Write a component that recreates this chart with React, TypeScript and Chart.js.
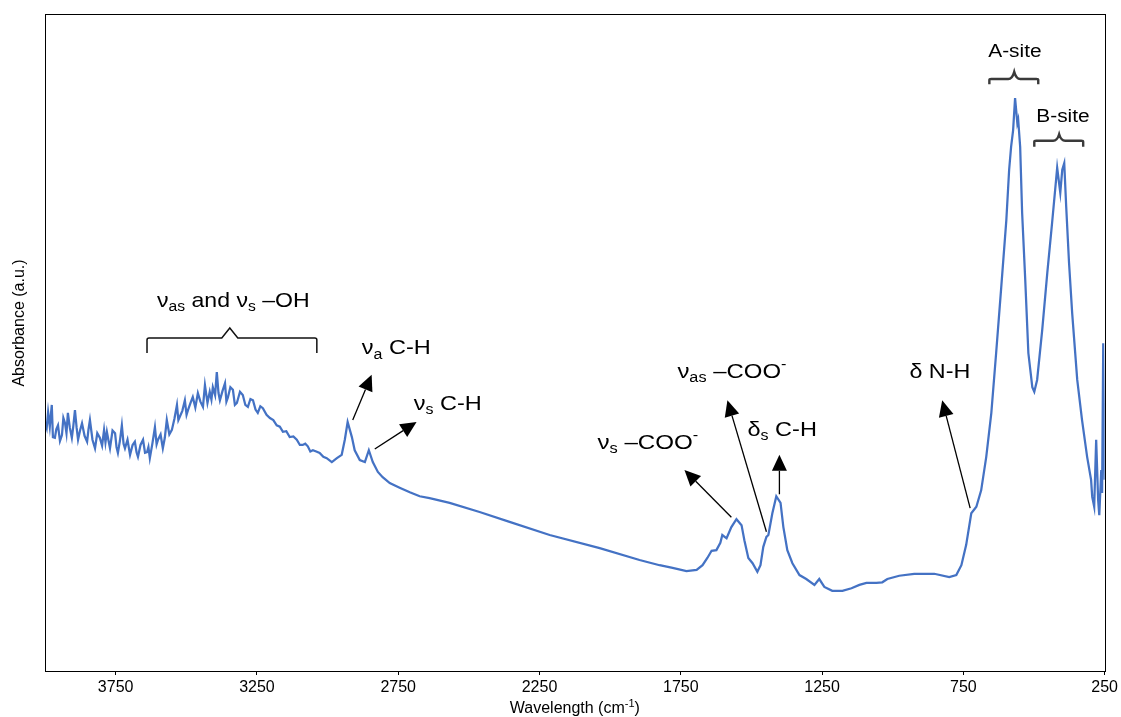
import React, { useEffect, useRef } from 'react';
import { Chart, registerables } from 'chart.js';

Chart.register(...registerables);

// ---- Data (wavenumber in cm-1, absorbance in a.u.) ----
const wavenumbers: number[] = [
  4000, 3994, 3989, 3983, 3976, 3972, 3965, 3960, 3954, 3947, 3940, 3935, 3929, 3924, 3919, 3912, 3905, 3900, 3894, 3888,
  3883, 3876, 3869, 3860, 3851, 3846, 3841, 3832, 3823, 3815, 3806, 3798, 3791, 3786, 3781, 3775, 3770, 3761, 3752, 3747,
  3742, 3735, 3728, 3722, 3717, 3708, 3699, 3690, 3682, 3676, 3671, 3662, 3653, 3646, 3639, 3634, 3629, 3620, 3611, 3605,
  3600, 3591, 3583, 3576, 3569, 3560, 3551, 3542, 3533, 3528, 3523, 3514, 3505, 3499, 3494, 3485, 3477, 3468, 3459, 3450,
  3441, 3434, 3425, 3417, 3411, 3406, 3398, 3392, 3386, 3381, 3372, 3363, 3358, 3353, 3344, 3335, 3328, 3321, 3310, 3300,
  3291, 3282, 3273, 3264, 3255, 3247, 3238, 3229, 3216, 3204, 3192, 3180, 3169, 3158, 3146, 3134, 3121, 3109, 3098, 3088,
  3079, 3070, 3061, 3052, 3040, 3028, 3015, 3003, 2985, 2967, 2950, 2939, 2929, 2914, 2904, 2886, 2868, 2854, 2840, 2822,
  2805, 2780, 2745, 2709, 2674, 2639, 2568, 2462, 2356, 2214, 2037, 1896, 1825, 1779, 1730, 1694, 1673, 1656, 1641, 1624,
  1610, 1603, 1588, 1571, 1553, 1535, 1525, 1511, 1496, 1479, 1468, 1458, 1447, 1440, 1426, 1412, 1397, 1387, 1373, 1355,
  1330, 1306, 1277, 1260, 1242, 1214, 1178, 1146, 1118, 1093, 1058, 1037, 1019, 977, 924, 853, 800, 775, 757, 740,
  722, 704, 687, 669, 651, 634, 616, 598, 588, 581, 574, 567, 559, 556, 549, 542, 531, 520, 506, 499,
  489, 471, 453, 436, 422, 418, 407, 400, 393, 386, 376, 365, 347, 330, 312, 298, 294, 287, 280, 273,
  269, 262, 259, 255, 250,
];

const absorbance: number[] = [
  0.379, 0.370, 0.394, 0.372, 0.405, 0.356, 0.355, 0.368, 0.374, 0.350, 0.359, 0.385, 0.377, 0.362, 0.393, 0.370, 0.355, 0.372, 0.397, 0.370,
  0.352, 0.366, 0.377, 0.358, 0.349, 0.368, 0.382, 0.352, 0.339, 0.362, 0.355, 0.343, 0.367, 0.348, 0.364, 0.350, 0.339, 0.366, 0.362, 0.341,
  0.332, 0.350, 0.374, 0.346, 0.339, 0.352, 0.329, 0.344, 0.349, 0.333, 0.326, 0.344, 0.352, 0.332, 0.333, 0.341, 0.324, 0.346, 0.371, 0.345,
  0.352, 0.360, 0.339, 0.355, 0.382, 0.360, 0.367, 0.384, 0.405, 0.382, 0.387, 0.396, 0.412, 0.390, 0.397, 0.408, 0.417, 0.401, 0.423, 0.410,
  0.402, 0.435, 0.408, 0.425, 0.413, 0.432, 0.420, 0.455, 0.423, 0.412, 0.426, 0.438, 0.410, 0.416, 0.432, 0.428, 0.405, 0.408, 0.425, 0.420,
  0.405, 0.402, 0.414, 0.412, 0.398, 0.393, 0.403, 0.400, 0.390, 0.385, 0.382, 0.374, 0.372, 0.364, 0.365, 0.356, 0.357, 0.352, 0.344, 0.344,
  0.346, 0.342, 0.334, 0.336, 0.334, 0.332, 0.326, 0.324, 0.318, 0.324, 0.329, 0.352, 0.379, 0.356, 0.336, 0.321, 0.318, 0.336, 0.318, 0.303,
  0.295, 0.286, 0.279, 0.272, 0.266, 0.263, 0.256, 0.242, 0.227, 0.207, 0.187, 0.169, 0.161, 0.157, 0.152, 0.154, 0.161, 0.172, 0.183, 0.184,
  0.195, 0.207, 0.202, 0.219, 0.231, 0.222, 0.199, 0.172, 0.164, 0.151, 0.161, 0.189, 0.204, 0.207, 0.240, 0.266, 0.256, 0.219, 0.184, 0.164,
  0.146, 0.140, 0.131, 0.140, 0.128, 0.122, 0.122, 0.126, 0.131, 0.134, 0.134, 0.135, 0.140, 0.145, 0.148, 0.148, 0.143, 0.146, 0.161, 0.192,
  0.240, 0.250, 0.275, 0.326, 0.393, 0.484, 0.584, 0.686, 0.763, 0.798, 0.823, 0.872, 0.834, 0.839, 0.798, 0.697, 0.595, 0.484, 0.432, 0.425,
  0.443, 0.519, 0.606, 0.682, 0.747, 0.766, 0.728, 0.763, 0.773, 0.706, 0.621, 0.545, 0.443, 0.382, 0.326, 0.291, 0.265, 0.250, 0.352, 0.260,
  0.237, 0.306, 0.271, 0.499, 0.291,
];

const xTickValues: number[] = [3750, 3250, 2750, 2250, 1750, 1250, 750, 250];
const X_MIN = 250;
const X_MAX = 4000;
const Y_MIN = 0;
const Y_MAX = 1;

const xTitle = 'Wavelength (cm';
const xTitleSup = '-1';
const yTitle = 'Absorbance (a.u.)';

type Seg = { t: string; sub?: boolean; sup?: boolean };

// Annotation text, anchored in data units (left edge, baseline)
const annotationTexts: { x: number; y: number; segs: Seg[]; size: number; stretch: number }[] = [
  { x: 3604, y: 0.554, size: 21, stretch: 1.1, segs: [{ t: 'ν' }, { t: 'as', sub: true }, { t: ' and ' }, { t: 'ν' }, { t: 's', sub: true }, { t: ' –OH' }] },
  { x: 2879, y: 0.482, size: 21, stretch: 1.12, segs: [{ t: 'ν' }, { t: 'a', sub: true }, { t: ' C-H' }] },
  { x: 2695, y: 0.397, size: 21, stretch: 1.12, segs: [{ t: 'ν' }, { t: 's', sub: true }, { t: ' C-H' }] },
  { x: 1762, y: 0.446, size: 21, stretch: 1.14, segs: [{ t: 'ν' }, { t: 'as', sub: true }, { t: ' –COO' }, { t: '-', sup: true }] },
  { x: 1514, y: 0.358, size: 21, stretch: 1.12, segs: [{ t: 'δ' }, { t: 's', sub: true }, { t: ' C-H' }] },
  { x: 2045, y: 0.338, size: 21, stretch: 1.15, segs: [{ t: 'ν' }, { t: 's', sub: true }, { t: ' –COO' }, { t: '-', sup: true }] },
  { x: 941, y: 0.446, size: 21, stretch: 1.11, segs: [{ t: 'δ N-H' }] },
  { x: 662, y: 0.935, size: 18, stretch: 1.16, segs: [{ t: 'A-site' }] },
  { x: 492, y: 0.836, size: 18, stretch: 1.16, segs: [{ t: 'B-site' }] },
];

// Arrows: from (wavenumber, absorbance) to tip
const arrowFromX: number[] = [2911, 2833, 1447, 1401, 1571, 726];
const arrowFromY: number[] = [0.382, 0.338, 0.212, 0.269, 0.234, 0.248];
const arrowToX: number[] = [2844, 2685, 1585, 1401, 1737, 825];
const arrowToY: number[] = [0.451, 0.379, 0.412, 0.329, 0.306, 0.412];

// Brackets: [left, apex, right] wavenumbers, line level, end level, apex level
const brackets = [
  { kind: 'square', x0: 3639, xm: 3346, x1: 3038, y: 0.507, yEnd: 0.484, yApex: 0.522 },
  { kind: 'curly', x0: 658, xm: 570, x1: 485, y: 0.901, yEnd: 0.893, yApex: 0.912 },
  { kind: 'curly', x0: 499, xm: 411, x1: 326, y: 0.807, yEnd: 0.798, yApex: 0.817 },
];

const FONT = "'Liberation Sans', Arial, Helvetica, sans-serif";

function drawRich(ctx: CanvasRenderingContext2D, x: number, y: number, segs: Seg[], size: number, stretch: number) {
  ctx.save();
  ctx.translate(x, y);
  ctx.scale(stretch, 1);
  let cx = 0;
  ctx.textBaseline = 'alphabetic';
  ctx.textAlign = 'left';
  for (const s of segs) {
    const small = s.sub || s.sup;
    const fs = small ? size * 0.68 : size;
    ctx.font = `${fs}px ${FONT}`;
    const dy = s.sub ? size * 0.2 : s.sup ? -size * 0.42 : 0;
    ctx.fillText(s.t, cx, dy);
    cx += ctx.measureText(s.t).width;
  }
  ctx.restore();
}

function drawArrow(ctx: CanvasRenderingContext2D, x0: number, y0: number, x1: number, y1: number) {
  const ang = Math.atan2(y1 - y0, x1 - x0);
  const headLen = 16;
  const headHalf = 7.5;
  const bx = x1 - headLen * Math.cos(ang);
  const by = y1 - headLen * Math.sin(ang);
  ctx.beginPath();
  ctx.moveTo(x0, y0);
  ctx.lineTo(bx, by);
  ctx.lineWidth = 1.3;
  ctx.strokeStyle = '#000';
  ctx.stroke();
  ctx.beginPath();
  ctx.moveTo(x1, y1);
  ctx.lineTo(bx + headHalf * Math.sin(ang), by - headHalf * Math.cos(ang));
  ctx.lineTo(bx - headHalf * Math.sin(ang), by + headHalf * Math.cos(ang));
  ctx.closePath();
  ctx.fillStyle = '#000';
  ctx.fill();
}

const annotationPlugin = {
  id: 'annotations',
  afterDraw(chart: any) {
    const ctx: CanvasRenderingContext2D = chart.ctx;
    const xs = chart.scales.x;
    const ys = chart.scales.y;
    const ca = chart.chartArea;
    const px = (v: number) => xs.getPixelForValue(v);
    const py = (v: number) => ys.getPixelForValue(v);
    ctx.save();

    // frame
    ctx.strokeStyle = '#000';
    ctx.lineWidth = 1;
    ctx.strokeRect(Math.round(ca.left) + 0.5, Math.round(ca.top) + 0.5, Math.round(ca.right - ca.left), Math.round(ca.bottom - ca.top));

    // texts
    ctx.fillStyle = '#000';
    for (const a of annotationTexts) drawRich(ctx, px(a.x), py(a.y), a.segs, a.size, a.stretch);

    // arrows
    for (let i = 0; i < arrowFromX.length; i++) {
      drawArrow(ctx, px(arrowFromX[i]), py(arrowFromY[i]), px(arrowToX[i]), py(arrowToY[i]));
    }

    // brackets
    for (const b of brackets) {
      const x0 = px(b.x0), xm = px(b.xm), x1 = px(b.x1);
      const y = py(b.y), ye = py(b.yEnd), ya = py(b.yApex);
      ctx.beginPath();
      if (b.kind === 'square') {
        ctx.moveTo(x0, ye);
        ctx.lineTo(x0, y + 2);
        ctx.quadraticCurveTo(x0, y, x0 + 2, y);
        ctx.lineTo(xm - 8, y);
        ctx.lineTo(xm, ya);
        ctx.lineTo(xm + 8, y);
        ctx.lineTo(x1 - 2, y);
        ctx.quadraticCurveTo(x1, y, x1, y + 2);
        ctx.lineTo(x1, ye);
        ctx.lineWidth = 1.5;
        ctx.strokeStyle = '#111';
      } else {
        ctx.moveTo(x0, ye);
        ctx.lineTo(x0, y + 1);
        ctx.quadraticCurveTo(x0, y, x0 + 2, y);
        ctx.lineTo(xm - 6, y);
        ctx.quadraticCurveTo(xm - 2, y, xm, ya);
        ctx.quadraticCurveTo(xm + 2, y, xm + 6, y);
        ctx.lineTo(x1 - 2, y);
        ctx.quadraticCurveTo(x1, y, x1, y + 1);
        ctx.lineTo(x1, ye);
        ctx.lineWidth = 2.4;
        ctx.strokeStyle = '#3a3a3a';
      }
      ctx.stroke();
    }

    // x-axis title with superscript
    const cx = (ca.left + ca.right) / 2;
    ctx.font = `16px ${FONT}`;
    const w1 = ctx.measureText(xTitle).width;
    ctx.font = `11px ${FONT}`;
    const w2 = ctx.measureText(xTitleSup).width;
    ctx.font = `16px ${FONT}`;
    const w3 = ctx.measureText(')').width;
    let sx = cx - (w1 + w2 + w3) / 2;
    const by = 713;
    ctx.textBaseline = 'alphabetic';
    ctx.textAlign = 'left';
    ctx.fillText(xTitle, sx, by);
    sx += w1;
    ctx.font = `11px ${FONT}`;
    ctx.fillText(xTitleSup, sx, by - 6);
    sx += w2;
    ctx.font = `16px ${FONT}`;
    ctx.fillText(')', sx, by);

    // y-axis title
    ctx.save();
    ctx.translate(24, 323);
    ctx.rotate(-Math.PI / 2);
    ctx.textAlign = 'center';
    ctx.textBaseline = 'alphabetic';
    ctx.font = `16px ${FONT}`;
    ctx.fillText(yTitle, 0, 0);
    ctx.restore();

    ctx.restore();
  },
};

export default function App() {
  const canvasRef = useRef<HTMLCanvasElement | null>(null);

  useEffect(() => {
    if (!canvasRef.current) return;
    const n = Math.min(wavenumbers.length, absorbance.length);
    const points = [] as { x: number; y: number }[];
    for (let i = 0; i < n; i++) points.push({ x: wavenumbers[i], y: absorbance[i] });

    const chart = new Chart(canvasRef.current, {
      type: 'line',
      data: {
        datasets: [
          {
            data: points,
            borderColor: '#4472C4',
            borderWidth: 2.25,
            pointRadius: 0,
            tension: 0,
            fill: false,
          },
        ],
      },
      options: {
        animation: false,
        responsive: false,
        layout: { padding: { top: 14, right: 16, left: 0, bottom: 0 } },
        plugins: { legend: { display: false }, tooltip: { enabled: false } },
        scales: {
          x: {
            type: 'linear',
            reverse: true,
            min: X_MIN,
            max: X_MAX,
            afterBuildTicks: (scale: any) => {
              scale.ticks = xTickValues.map((v) => ({ value: v }));
            },
            afterFit: (scale: any) => {
              scale.height = 46;
            },
            grid: { display: true, drawOnChartArea: false, drawTicks: true, tickLength: 4, color: '#000' },
            border: { display: true, color: '#000', width: 1 },
            ticks: {
              autoSkip: false,
              maxRotation: 0,
              color: '#000',
              padding: 3,
              font: { family: FONT, size: 16 },
              callback: (v: any) => String(v),
            },
          },
          y: {
            type: 'linear',
            min: Y_MIN,
            max: Y_MAX,
            afterFit: (scale: any) => {
              scale.width = 45;
            },
            grid: { display: false },
            border: { display: true, color: '#000', width: 1 },
            ticks: { display: false },
          },
        },
      },
      plugins: [annotationPlugin],
    });
    return () => chart.destroy();
  }, []);

  return (
    <div style={{ position: 'absolute', left: 0, top: 0, width: 1121, height: 717, background: '#fff' }}>
      <canvas ref={canvasRef} width={1121} height={717} style={{ display: 'block' }} />
    </div>
  );
}
